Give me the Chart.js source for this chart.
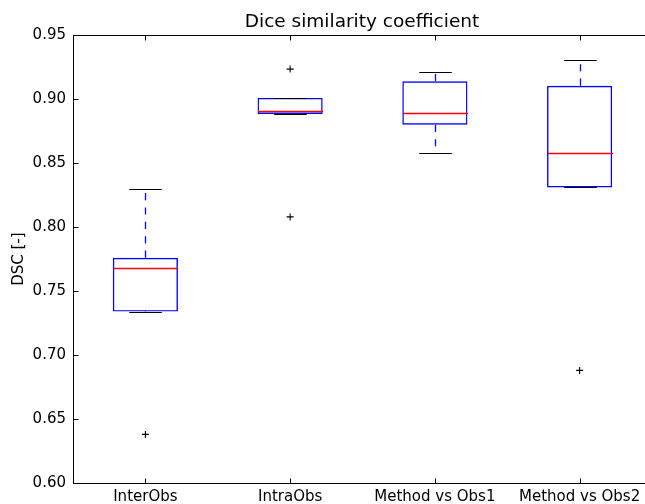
<!DOCTYPE html>
<html>
<head>
<meta charset="utf-8">
<script src="https://cdn.jsdelivr.net/npm/chart.js@4"></script>
<style>
    html, body { margin: 0; padding: 0; background: #fff; overflow: hidden; }
    #wrap { width: 645px; height: 504px; overflow: hidden; }
</style>
</head>
<body>
<div id="wrap"><canvas id="chart" width="724" height="504"></canvas></div>
<script>
// box plot values
const categories = ['InterObs', 'IntraObs', 'Method vs Obs1', 'Method vs Obs2']
const whiskerLow = [0.734, 0.8885, 0.858, 0.831]
const q1 = [0.734, 0.8885, 0.880, 0.831]
const median = [0.768, 0.8905, 0.889, 0.858]
const q3 = [0.776, 0.901, 0.914, 0.9105]
const whiskerHigh = [0.830, 0.901, 0.921, 0.9305]
const outliers = [[0.638], [0.9235, 0.808], [], [0.688]]
const yTicks = [0.60, 0.65, 0.70, 0.75, 0.80, 0.85, 0.90, 0.95]

Chart.defaults.font.family = "'DejaVu Sans', sans-serif"
Chart.defaults.color = '#000'

const tickLen = 5
const BLUE = '#0000ff'
const RED = '#ff0000'

// whiskers, caps, medians, frame and inward ticks, all placed via the chart scales
const boxPlotExtras = {
    id: 'boxPlotExtras',
    afterDatasetsDraw(chart) {
        const ctx = chart.ctx
        const xs = chart.scales.x
        const ys = chart.scales.y
        const bars = chart.getDatasetMeta(0).data
        const area = chart.chartArea

        ctx.save()

        categories.forEach((cat, i) => {
            const x = Math.round(xs.getPixelForValue(i)) + 0.5
            const w = bars[i].width
            const yLo = Math.round(ys.getPixelForValue(whiskerLow[i])) + 0.5
            const yQ1 = ys.getPixelForValue(q1[i])
            const yMed = Math.round(ys.getPixelForValue(median[i])) + 0.5
            const yQ3 = ys.getPixelForValue(q3[i])
            const yHi = Math.round(ys.getPixelForValue(whiskerHigh[i])) + 0.5

            // dashed whiskers, dash starts at the box edge
            ctx.lineWidth = 1.3
            ctx.strokeStyle = BLUE
            ctx.setLineDash([7.2, 7.2])
            ctx.beginPath()
            ctx.moveTo(x, yQ3)
            ctx.lineTo(x, yHi)
            ctx.stroke()
            ctx.beginPath()
            ctx.moveTo(x, yQ1)
            ctx.lineTo(x, yLo)
            ctx.stroke()
            ctx.setLineDash([])

            // caps
            ctx.lineWidth = 1.2
            ctx.strokeStyle = '#000'
            ctx.beginPath()
            ctx.moveTo(x - w / 4, yHi)
            ctx.lineTo(x + w / 4, yHi)
            ctx.moveTo(x - w / 4, yLo)
            ctx.lineTo(x + w / 4, yLo)
            ctx.stroke()

            // median
            ctx.lineWidth = 1.3
            ctx.strokeStyle = RED
            ctx.beginPath()
            ctx.moveTo(x - w / 2, yMed)
            ctx.lineTo(x + w / 2, yMed)
            ctx.stroke()
        })

        // frame
        const l = Math.round(area.left) + 0.5
        const t = Math.round(area.top) + 0.5
        const r = Math.round(area.right) + 0.5
        const b = Math.round(area.bottom) + 0.5
        ctx.lineWidth = 1
        ctx.strokeStyle = '#000'
        ctx.strokeRect(l, t, r - l, b - t)

        // inward ticks
        ctx.beginPath()
        yTicks.forEach(v => {
            const y = Math.round(ys.getPixelForValue(v)) + 0.5
            ctx.moveTo(l, y)
            ctx.lineTo(l + tickLen, y)
            ctx.moveTo(r, y)
            ctx.lineTo(r - tickLen, y)
        })
        categories.forEach((cat, i) => {
            const x = Math.round(xs.getPixelForValue(i)) + 0.5
            ctx.moveTo(x, b)
            ctx.lineTo(x, b - tickLen)
            ctx.moveTo(x, t)
            ctx.lineTo(x, t + tickLen)
        })
        ctx.stroke()
        ctx.restore()
    }
}

const outlierPoints = []
outliers.forEach((vals, i) => {
    vals.forEach(v => outlierPoints.push({ x: categories[i], y: v }))
})

new Chart(document.getElementById('chart'), {
    type: 'bar',
    data: {
        labels: categories,
        datasets: [{
            label: 'box',
            data: categories.map((c, i) => [q1[i], q3[i]]),
            backgroundColor: 'rgba(0,0,0,0)',
            borderColor: BLUE,
            borderWidth: 1.4,
            borderSkipped: false,
            barPercentage: 0.45,
            categoryPercentage: 1
        }, {
            type: 'scatter',
            label: 'outliers',
            data: outlierPoints,
            pointStyle: 'cross',
            pointRadius: 3.5,
            borderColor: '#000',
            borderWidth: 1.1
        }]
    },
    options: {
        responsive: false,
        animation: false,
        events: [],
        plugins: {
            legend: { display: false },
            tooltip: { enabled: false },
            title: {
                display: true,
                text: 'Dice similarity coefficient',
                font: { size: 18.5, weight: 'normal' },
                padding: { top: 11, bottom: 2 }
            }
        },
        scales: {
            x: {
                type: 'category',
                offset: true,
                grid: { display: false, drawTicks: false },
                border: { display: false },
                ticks: { font: { size: 15 }, padding: 5, maxRotation: 0, autoSkip: false },
                afterFit: scale => { scale.height = 21 }
            },
            y: {
                min: 0.60,
                max: 0.95,
                grid: { display: false, drawTicks: false },
                border: { display: false },
                afterBuildTicks: scale => { scale.ticks = yTicks.map(v => ({ value: v })) },
                ticks: {
                    font: { size: 15 },
                    padding: 7,
                    callback: v => Number(v).toFixed(2)
                },
                title: {
                    display: true,
                    text: 'DSC [-]',
                    font: { size: 15 },
                    padding: { top: 10, bottom: 0 }
                },
                afterFit: scale => { scale.width = 73 }
            },
            // empty right-hand axis: keeps the plot running past the window edge
            yRight: {
                type: 'linear',
                position: 'right',
                grid: { display: false, drawTicks: false },
                border: { display: false },
                ticks: { display: false },
                afterFit: scale => { scale.width = 72 }
            }
        }
    },
    plugins: [boxPlotExtras]
})
</script>
</body>
</html>
